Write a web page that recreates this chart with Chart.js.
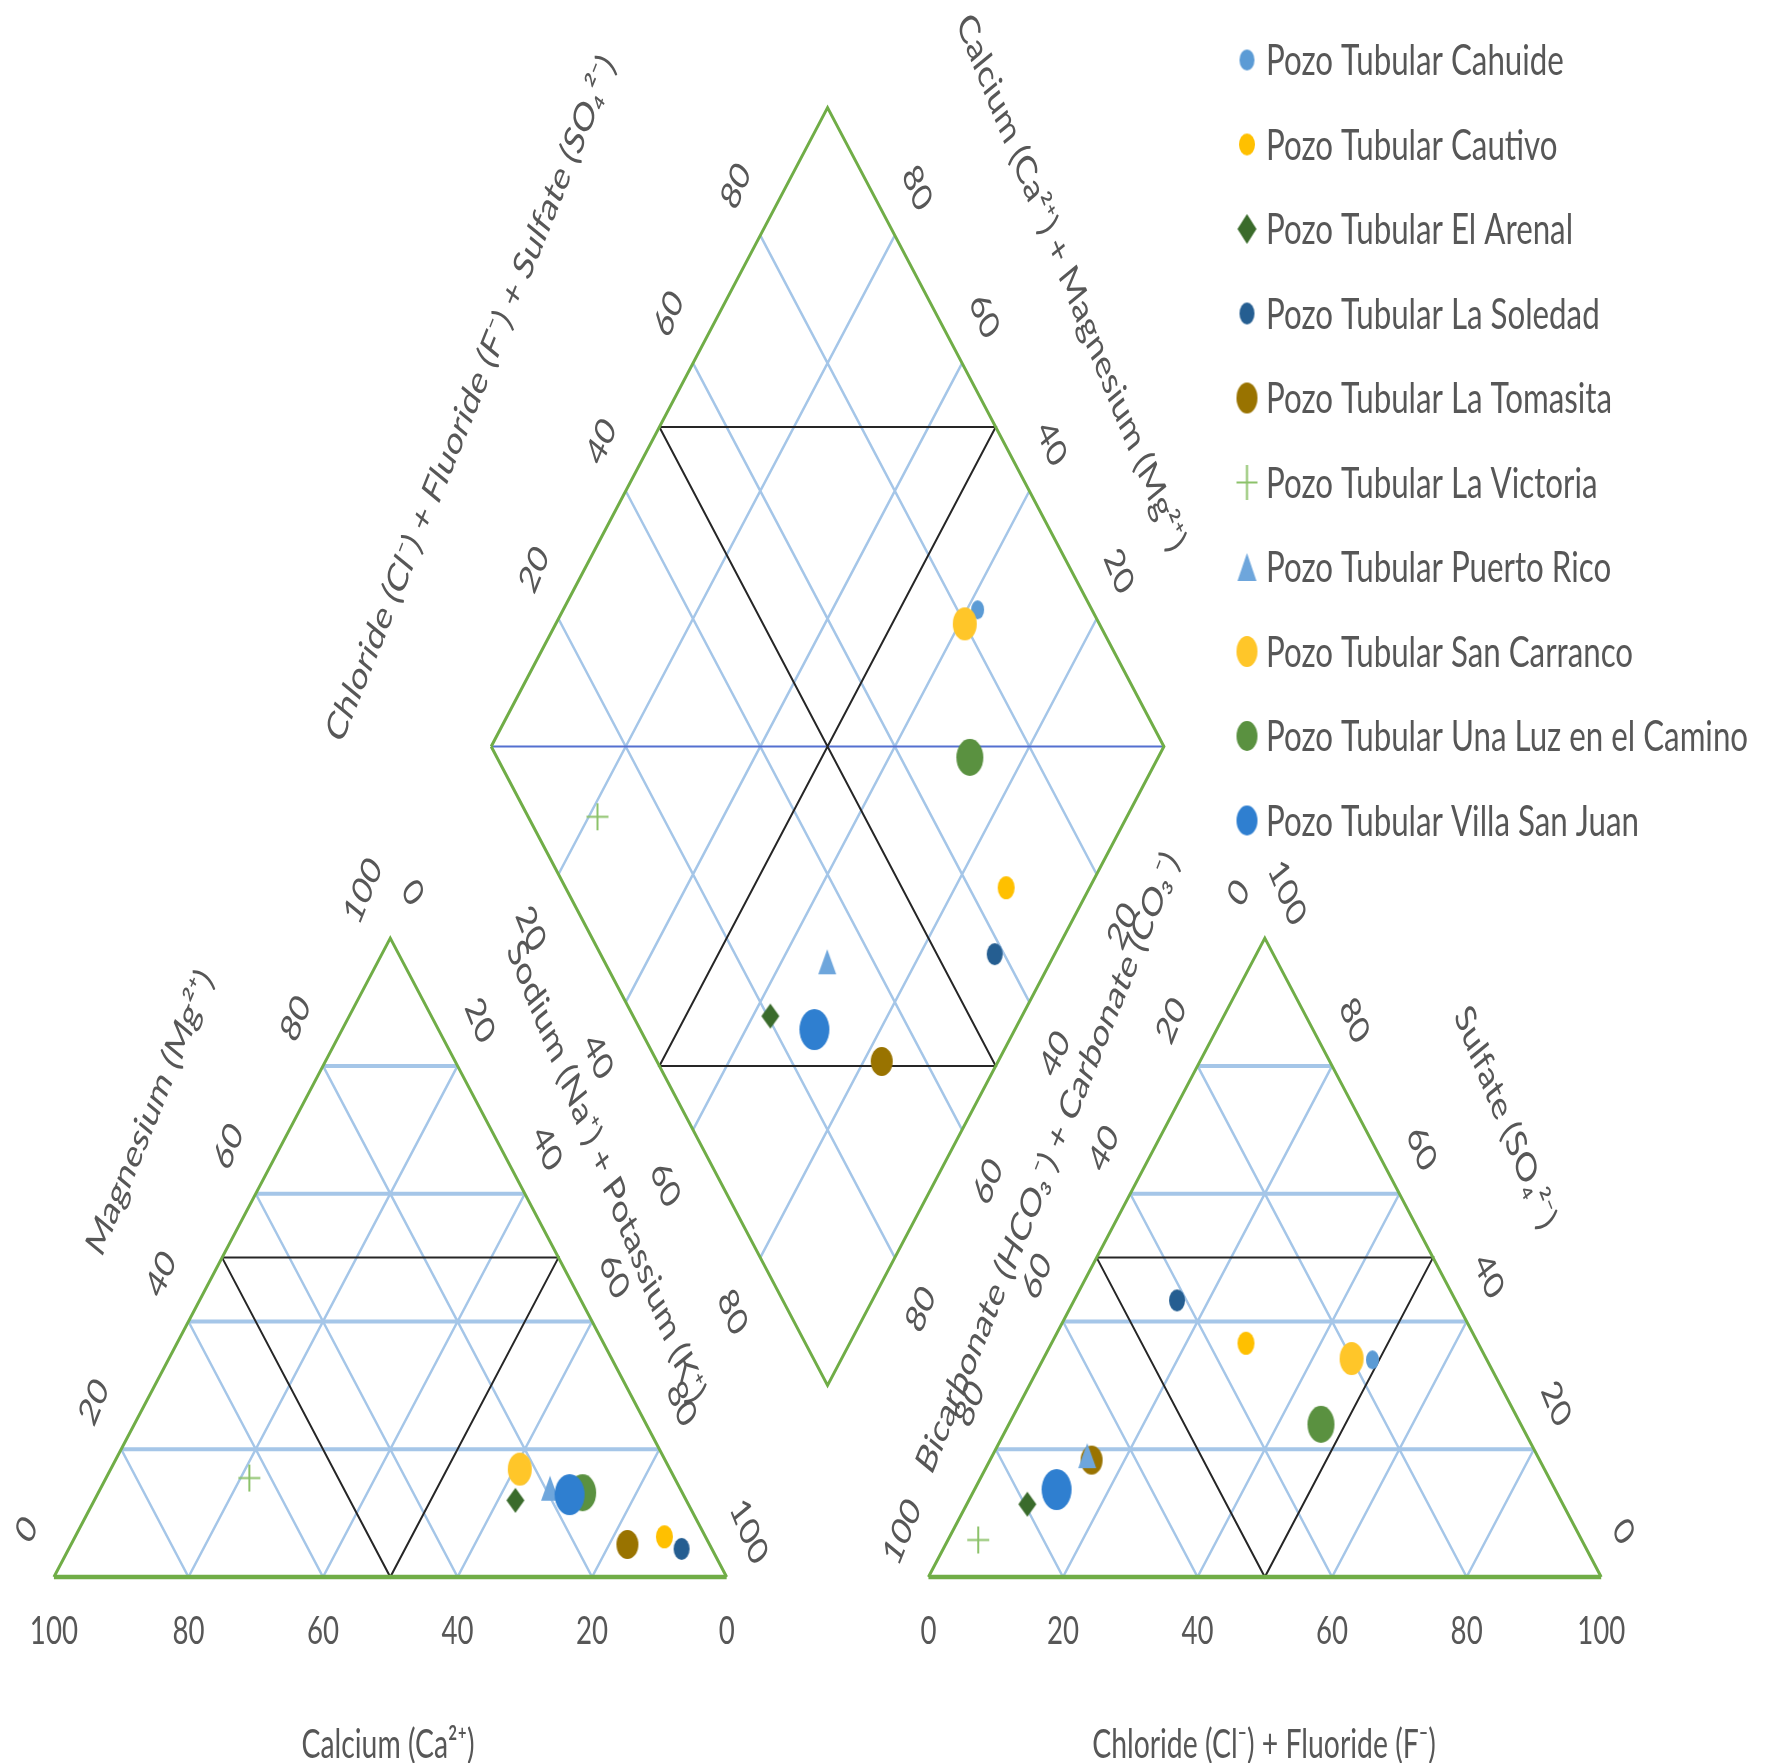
<!DOCTYPE html>
<html>
<head>
<meta charset="utf-8">
<title>Piper diagram</title>
<script src="https://cdn.jsdelivr.net/npm/chart.js@4.4.1/dist/chart.umd.min.js"></script>
<style>
  html, body { margin: 0; padding: 0; background: #ffffff; }
  canvas { display: block; }
</style>
</head>
<body>
<canvas id="piper" width="1765" height="1763" style="width:1765px;height:1763px"></canvas>
<script>
// ---- data (percent of meq) ----
const SAMPLES = [
  'Pozo Tubular Cahuide',
  'Pozo Tubular Cautivo',
  'Pozo Tubular El Arenal',
  'Pozo Tubular La Soledad',
  'Pozo Tubular La Tomasita',
  'Pozo Tubular La Victoria',
  'Pozo Tubular Puerto Rico',
  'Pozo Tubular San Carranco',
  'Pozo Tubular Una Luz en el Camino',
  'Pozo Tubular Villa San Juan'
];
const CALCIUM           = [22.4,  6.1, 25.4,  4.5, 12.2, 63.2, 19.3, 22.3, 14.8, 16.9];
const MAGNESIUM         = [16.0,  6.3, 12.0,  4.4,  5.1, 15.5, 13.9, 16.9, 13.2, 12.9];
const CHLORIDE_FLUORIDE = [49.0, 28.9,  9.0, 15.3, 15.1,  4.5, 14.1, 45.8, 46.4, 12.2];
const SULFATE           = [34.0, 36.6, 11.4, 43.3, 18.3,  5.8, 19.0, 34.2, 23.9, 13.7];

const TICKS = [0, 20, 40, 60, 80, 100];
const GRID_STEPS = [20, 40, 60, 80];

const TITLES = {
  calcium: 'Calcium (Ca²⁺)',
  magnesium: 'Magnesium (Mg²⁺)',
  sodium: 'Sodium (Na⁺) + Potassium (K⁺)',
  anionSum: 'Chloride (Cl⁻) + Fluoride (F⁻) + Sulfate (SO₄²⁻)',
  cationSum: 'Calcium (Ca²⁺) + Magnesium (Mg²⁺)',
  bicarbonate: 'Bicarbonate (HCO₃⁻) + Carbonate (CO₃⁻)',
  sulfate: 'Sulfate (SO₄²⁻)',
  chloride: 'Chloride (Cl⁻) + Fluoride (F⁻)'
};

// ---- marker styles, one per sample ----
const MARKER_STYLE = [
  { shape: 'circle',   color: '#5B9BD5', w: 13, h: 19, lw: 0, legendW: 15, legendH: 21 },
  { shape: 'circle',   color: '#FFC000', w: 17, h: 23, lw: 0, legendW: 16, legendH: 22 },
  { shape: 'diamond',  color: '#3A6B2B', w: 18, h: 25, lw: 0, legendW: 19, legendH: 30 },
  { shape: 'circle',   color: '#255E91', w: 16, h: 22, lw: 0, legendW: 15, legendH: 22 },
  { shape: 'circle',   color: '#997300', w: 22, h: 29, lw: 0, legendW: 21, legendH: 31 },
  { shape: 'plus',     color: '#8CC26A', w: 22, h: 27, lw: 2, legendW: 21, legendH: 35 },
  { shape: 'triangle', color: '#6EA6DC', w: 18, h: 25, lw: 0, legendW: 19, legendH: 28 },
  { shape: 'circle',   color: '#FFC629', w: 24, h: 33, lw: 0, legendW: 21, legendH: 31 },
  { shape: 'circle',   color: '#5A9140', w: 27, h: 37, lw: 0, legendW: 21, legendH: 30 },
  { shape: 'circle',   color: '#2F7FD0', w: 30, h: 41, lw: 0, legendW: 21, legendH: 30 }
];

// ---- geometry of the Piper layout (data units, triangle side = 100) ----
const H = Math.sin(Math.PI / 3);
const GAP = 30;
const RIGHT_X0 = 100 + GAP;

// cation triangle: Ca at lower-left, Na+K at lower-right, Mg at apex
function cationPt(mg, nak) { return { x: nak + mg / 2, y: mg * H }; }
// anion triangle: HCO3 at lower-left, Cl+F at lower-right, SO4 at apex
function anionPt(so4, cl) { return { x: RIGHT_X0 + cl + so4 / 2, y: so4 * H }; }
// central diamond from Na+K and Cl+F+SO4
function diamondPt(nak, clso4) {
  return { x: 50 + GAP / 2 + (nak + clso4) / 2, y: GAP * H + H * (clso4 + 100 - nak) };
}

// ---- scale ranges (whole canvas is the plot area) ----
const X_MIN = -6.975, X_MAX = 253.31;
const Y_MIN = -24.26, Y_MAX = 212.83;

// ---- colours / strokes ----
const GRID_COLOR = '#A5C6E8';
const EDGE_COLOR = '#70AD47';
const FIELD_COLOR = '#262626';
const MID_COLOR = '#5470D0';
const TEXT_COLOR = '#575757';
const FONT = 'Lato, "DejaVu Sans", sans-serif';
const TEXT_SX = 0.70;
const LEGEND_SX = 0.745;
const CAP = 0.717;

// ---- build line datasets ----
function polyline(segments) {
  const out = [];
  segments.forEach((seg, i) => {
    if (i) out.push({ x: NaN, y: NaN });
    seg.forEach(p => out.push(p));
  });
  return out;
}
function lineSet(segments, color, width, order) {
  return {
    data: polyline(segments),
    showLine: true,
    borderColor: color,
    backgroundColor: color,
    borderWidth: width,
    pointRadius: 0,
    pointHoverRadius: 0,
    fill: false,
    order: order
  };
}

const triHorizontal = [], triDiagonal = [], diamondGrid = [];
GRID_STEPS.forEach(v => {
  // cation triangle
  triHorizontal.push([cationPt(v, 0), cationPt(v, 100 - v)]);
  triDiagonal.push([cationPt(0, v), cationPt(100 - v, v)]);
  triDiagonal.push([cationPt(0, 100 - v), cationPt(100 - v, 0)]);
  // anion triangle
  triHorizontal.push([anionPt(v, 0), anionPt(v, 100 - v)]);
  triDiagonal.push([anionPt(0, v), anionPt(100 - v, v)]);
  triDiagonal.push([anionPt(0, 100 - v), anionPt(100 - v, 0)]);
  // diamond
  diamondGrid.push([diamondPt(v, 0), diamondPt(v, 100)]);
  diamondGrid.push([diamondPt(0, v), diamondPt(100, v)]);
});
const diamondMid = [[diamondPt(0, 0), diamondPt(100, 100)]];

const fields = [
  [cationPt(50, 0), cationPt(50, 50), cationPt(0, 50), cationPt(50, 0)],
  [anionPt(50, 0), anionPt(50, 50), anionPt(0, 50), anionPt(50, 0)],
  [diamondPt(0, 50), diamondPt(50, 100), diamondPt(50, 0), diamondPt(100, 50), diamondPt(0, 50)]
];

const sideEdges = [
  [cationPt(0, 0), cationPt(100, 0), cationPt(0, 100)],
  [anionPt(0, 0), anionPt(100, 0), anionPt(0, 100)],
  [diamondPt(0, 0), diamondPt(0, 100), diamondPt(100, 100), diamondPt(100, 0), diamondPt(0, 0)]
];
const baseEdges = [
  [cationPt(0, 0), cationPt(0, 100)],
  [anionPt(0, 0), anionPt(0, 100)]
];

// ---- marker images ----
function makeMarker(shape, w, h, color, lw) {
  const c = document.createElement('canvas');
  c.width = Math.ceil(w) + 4;
  c.height = Math.ceil(h) + 4;
  const g = c.getContext('2d');
  const cx = c.width / 2, cy = c.height / 2;
  g.fillStyle = color;
  g.strokeStyle = color;
  g.beginPath();
  if (shape === 'circle') {
    g.ellipse(cx, cy, w / 2, h / 2, 0, 0, Math.PI * 2);
    g.fill();
  } else if (shape === 'diamond') {
    g.moveTo(cx, cy - h / 2); g.lineTo(cx + w / 2, cy);
    g.lineTo(cx, cy + h / 2); g.lineTo(cx - w / 2, cy); g.closePath();
    g.fill();
  } else if (shape === 'triangle') {
    g.moveTo(cx, cy - h / 2); g.lineTo(cx + w / 2, cy + h / 2);
    g.lineTo(cx - w / 2, cy + h / 2); g.closePath();
    g.fill();
  } else if (shape === 'plus') {
    g.lineWidth = lw;
    g.moveTo(cx - w / 2, cy); g.lineTo(cx + w / 2, cy);
    g.moveTo(cx, cy - h / 2); g.lineTo(cx, cy + h / 2);
    g.stroke();
  }
  return c;
}
const chartMarkers = MARKER_STYLE.map(s => makeMarker(s.shape, s.w, s.h, s.color, s.lw));
const legendMarkers = MARKER_STYLE.map(s => makeMarker(s.shape, s.legendW, s.legendH, s.color, s.lw));

// ---- sample datasets: one point in each of the three fields ----
const sampleSets = SAMPLES.map((name, i) => {
  const ca = CALCIUM[i], mg = MAGNESIUM[i], nak = 100 - ca - mg;
  const cl = CHLORIDE_FLUORIDE[i], so4 = SULFATE[i];
  return {
    label: name,
    data: [cationPt(mg, nak), anionPt(so4, cl), diamondPt(nak, cl + so4)],
    pointStyle: chartMarkers[i],
    pointRadius: 6,
    pointHoverRadius: 6,
    showLine: false,
    order: SAMPLES.length - i
  };
});

// ---- text ----
function px(chart, p) {
  return { x: chart.scales.x.getPixelForValue(p.x), y: chart.scales.y.getPixelForValue(p.y) };
}
function drawText(ctx, text, x, y, angle, size, align, sx) {
  ctx.save();
  ctx.translate(x, y);
  ctx.scale(sx || TEXT_SX, 1);
  ctx.rotate(angle * Math.PI / 180);
  ctx.font = size + 'px ' + FONT;
  ctx.fillStyle = TEXT_COLOR;
  ctx.textAlign = align || 'center';
  ctx.textBaseline = 'alphabetic';
  ctx.fillText(text, 0, size * CAP / 2);
  ctx.restore();
}

const TICK_SIZE = 39.5;
const TITLE_SIZE = 40.5;
const LEGEND_SIZE = 42;

const labelPlugin = {
  id: 'piperLabels',
  afterDatasetsDraw(chart) {
    const ctx = chart.ctx;
    const tick = (p, v, dx, dy, ang) => {
      const q = px(chart, p);
      drawText(ctx, String(v), q.x + dx, q.y + dy, ang, TICK_SIZE);
    };
    TICKS.forEach(v => {
      // cation triangle
      tick(cationPt(0, 100 - v), v, 0, 53, 0);
      tick(cationPt(v, 0), v, -28, -48, -60);
      tick(cationPt(100 - v, v), v, 23, -46, 60);
      // anion triangle
      tick(anionPt(0, v), v, 0, 53, 0);
      tick(anionPt(100 - v, 0), v, -27, -46, -60);
      tick(anionPt(v, 100 - v), v, 23, -46, 60);
    });
    GRID_STEPS.forEach(v => {
      tick(diamondPt(0, v), v, -25, -50, -60);
      tick(diamondPt(100 - v, 100), v, 23, -48, 60);
      tick(diamondPt(v, 0), v, -27, 54, 60);
      tick(diamondPt(100, 100 - v), v, 25, 51, -60);
    });

    drawText(ctx, TITLES.calcium, 388, 1743, 0, TITLE_SIZE);
    drawText(ctx, TITLES.chloride, 1264, 1743, 0, TITLE_SIZE);
    drawText(ctx, TITLES.magnesium, 149, 1112, -60, TITLE_SIZE);
    drawText(ctx, TITLES.sodium, 607, 1171, 60, TITLE_SIZE);
    drawText(ctx, TITLES.anionSum, 470, 398, -60, TITLE_SIZE);
    drawText(ctx, TITLES.cationSum, 1072, 282, 60, TITLE_SIZE);
    drawText(ctx, TITLES.bicarbonate, 1047, 1162, -60, TITLE_SIZE);
    drawText(ctx, TITLES.sulfate, 1506, 1117, 60, TITLE_SIZE);

    // legend
    SAMPLES.forEach((name, i) => {
      const y = 60 + i * 84.5;
      const m = legendMarkers[i];
      ctx.drawImage(m, 1247 - m.width / 2, y - m.height / 2);
      drawText(ctx, name, 1266, y, 0, LEGEND_SIZE, 'left', LEGEND_SX);
    });
  }
};

new Chart(document.getElementById('piper'), {
  type: 'scatter',
  data: {
    datasets: [
      lineSet(triDiagonal, GRID_COLOR, 2.5, 300),
      lineSet(diamondGrid, GRID_COLOR, 2.5, 300),
      lineSet(triHorizontal, GRID_COLOR, 4, 290),
      lineSet(diamondMid, MID_COLOR, 2, 280),
      lineSet(fields, FIELD_COLOR, 2, 270),
      lineSet(sideEdges, EDGE_COLOR, 3, 260),
      lineSet(baseEdges, EDGE_COLOR, 4.5, 250),
      ...sampleSets
    ]
  },
  options: {
    responsive: false,
    animation: false,
    devicePixelRatio: 1,
    events: [],
    layout: { padding: 0 },
    plugins: { legend: { display: false }, tooltip: { enabled: false } },
    scales: {
      x: { type: 'linear', min: X_MIN, max: X_MAX, display: false },
      y: { type: 'linear', min: Y_MIN, max: Y_MAX, display: false }
    }
  },
  plugins: [labelPlugin]
});
</script>
</body>
</html>
